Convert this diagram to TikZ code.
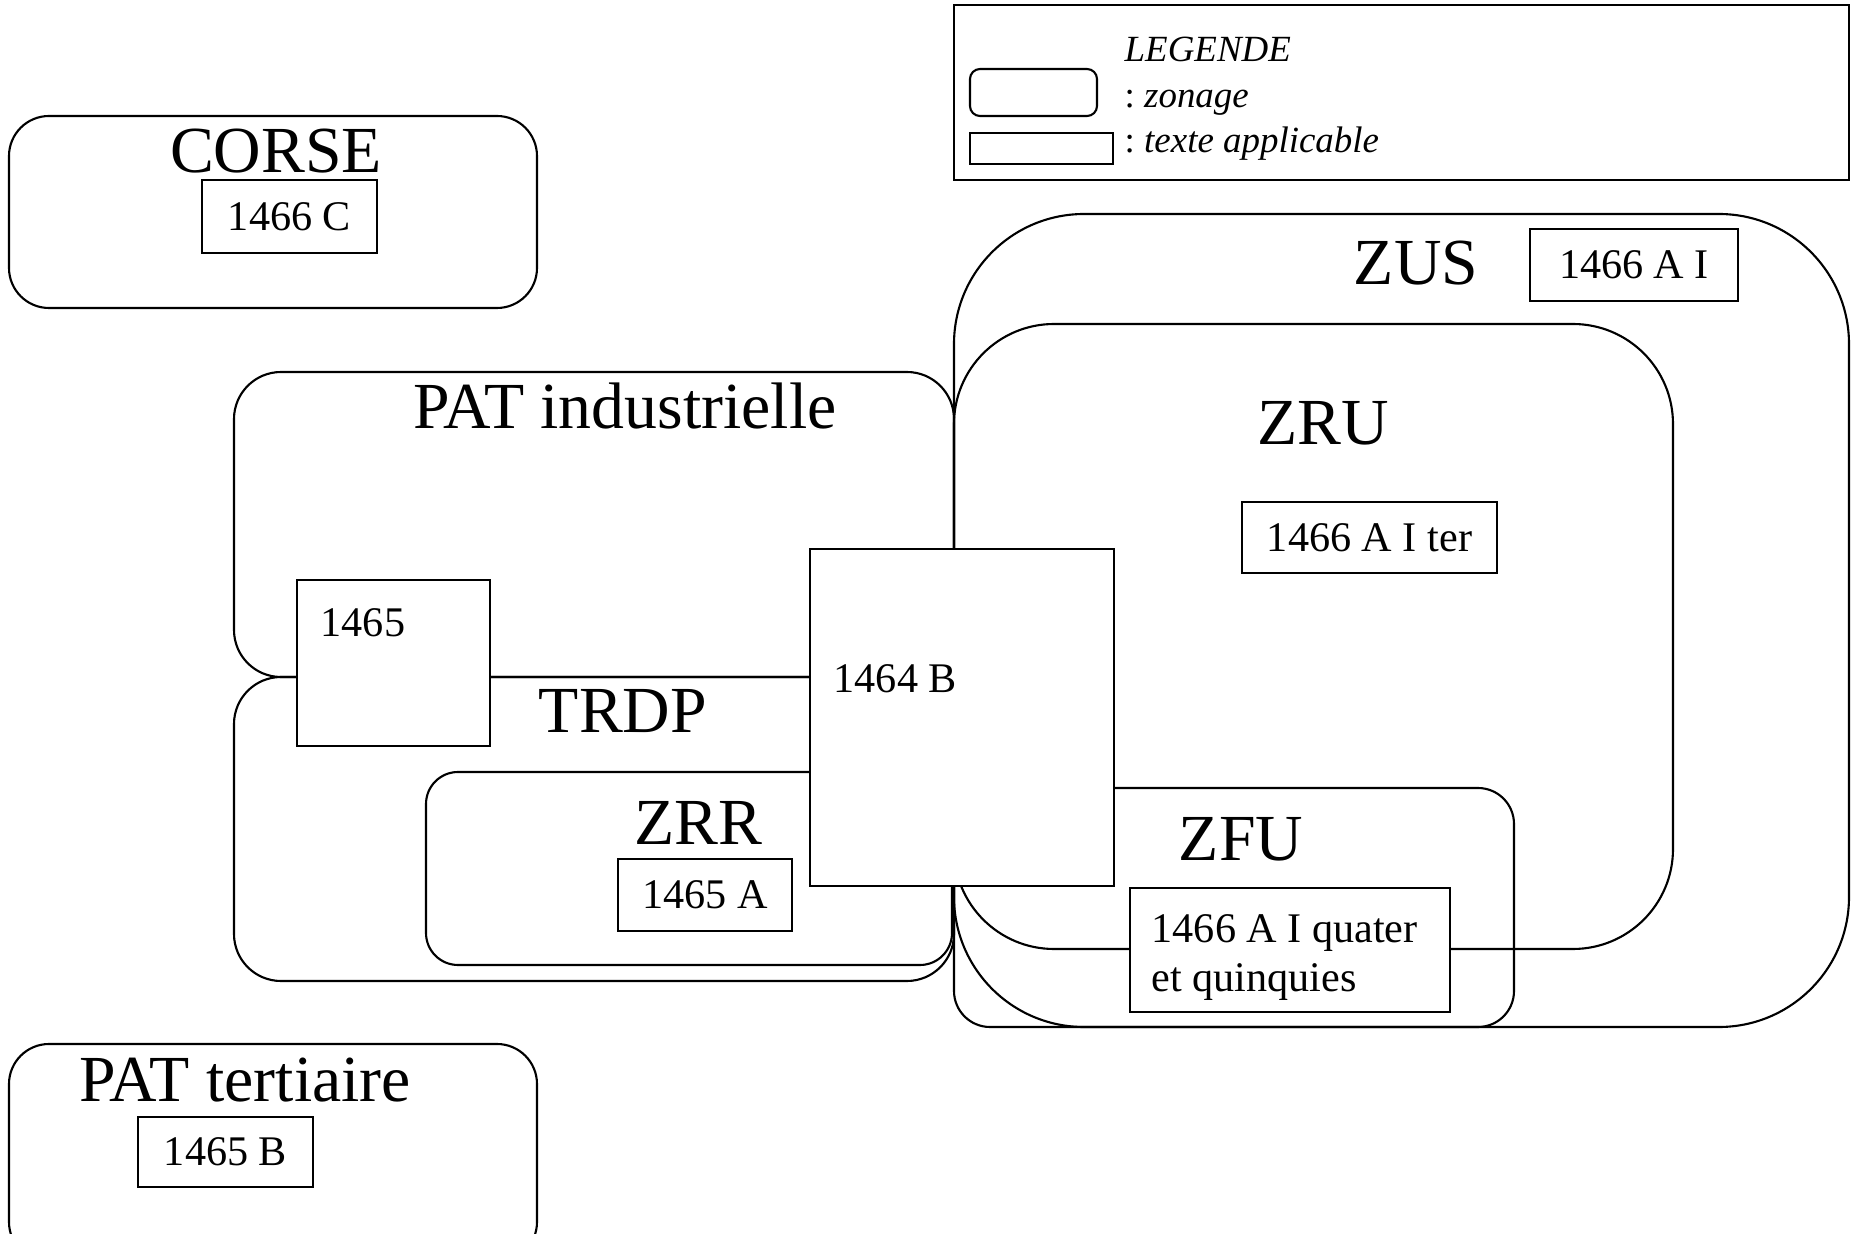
\documentclass[tikz,border=0pt]{standalone}
\usepackage{fontspec}
\setmainfont{Liberation Serif}
\usepackage{tikz}
\tikzset{
  zone/.style={draw=black,line width=0.6pt},
  legframe/.style={draw=black,line width=0.8pt},
  article/.style={draw=black,fill=white,line width=0.6pt,inner sep=0pt,
                  font=\fontsize{12}{14}\selectfont},
  zonename/.style={anchor=base,inner sep=0pt,font=\fontsize{18.7}{20}\selectfont},
  artname/.style={anchor=base west,inner sep=0pt,font=\fontsize{12}{14}\selectfont},
  legtext/.style={anchor=base west,inner sep=0pt,
                  font=\fontsize{10.5}{12}\selectfont\itshape}
}

\begin{document}
\begin{tikzpicture}[x=0.01cm,y=-0.01cm]
    \path[use as bounding box] (0,0) rectangle (1860,1234);

    \draw[legframe] (954,5) rectangle (1849,180);
    \node[legtext] (leg) at (1124,62) {LEGENDE};
    \draw[zone,rounded corners=0.1cm] (970,69) rectangle (1097,116);
    \node[legtext] (legzone) at (1124,108) {\upshape:\ \itshape zonage};
    \draw[zone] (970,133) rectangle (1113,164);
    \node[legtext] (legtexte) at (1124,153) {\upshape:\ \itshape texte applicable};

    \draw[zone,rounded corners=0.4cm] (9,116) rectangle (537,308);
    \draw[zone,rounded corners=0.4cm] (9,1044) rectangle (537,1262);
    \draw[zone,rounded corners=0.47cm] (234,372) rectangle (954,677);
    \draw[zone,rounded corners=0.47cm] (234,677) rectangle (954,981);
    \draw[zone,rounded corners=0.32cm] (426,772) rectangle (952,965);
    \draw[zone,rounded corners=1.3cm] (954,214) rectangle (1849,1027);
    \draw[zone,rounded corners=1.0cm] (954,324) rectangle (1673,949);
    \draw[zone,rounded corners=0.36cm] (954,788) rectangle (1514,1027);

    \node[zonename] (corse) at (276,173) {CORSE};
    \node[zonename] (patind) at (625,429) {PAT industrielle};
    \node[zonename] (trdp) at (623,733) {TRDP};
    \node[zonename] (zrr) at (698,845) {ZRR};
    \node[zonename] (zus) at (1416,285) {ZUS};
    \node[zonename] (zru) at (1323,445) {ZRU};
    \node[zonename] (zfu) at (1241,860) {ZFU};
    \node[zonename] (pattert) at (245,1101) {PAT tertiaire};

    \node[article,minimum width=1.75cm,minimum height=0.73cm] (a1466c)
      at (289.5,216.5) {1466 C};
    \node[article,minimum width=1.75cm,minimum height=0.70cm] (a1465b)
      at (225.5,1152) {1465 B};
    \node[article,minimum width=1.74cm,minimum height=0.72cm] (a1465a)
      at (705,895) {1465 A};
    \node[article,minimum width=2.08cm,minimum height=0.72cm] (a1466ai)
      at (1634,265) {1466 A I};
    \node[article,minimum width=2.55cm,minimum height=0.71cm] (a1466ter)
      at (1369.5,537.5) {1466 A I ter};
    \node[article,minimum width=1.93cm,minimum height=1.66cm] (a1465)
      at (393.5,663) {};
    \node[artname] (t1465) at (320,637) {1465};
    \node[article,minimum width=3.04cm,minimum height=3.37cm] (a1464b)
      at (962,717.5) {};
    \node[artname] (t1464b) at (833,693) {1464 B};
    \node[article,minimum width=3.2cm,minimum height=1.24cm] (a1466quat)
      at (1290,950) {};
    \node[artname,anchor=north west,align=left] (t1466quat) at (1151,914)
      {1466 A I quater\\et quinquies};
  \end{tikzpicture}
\end{document}
